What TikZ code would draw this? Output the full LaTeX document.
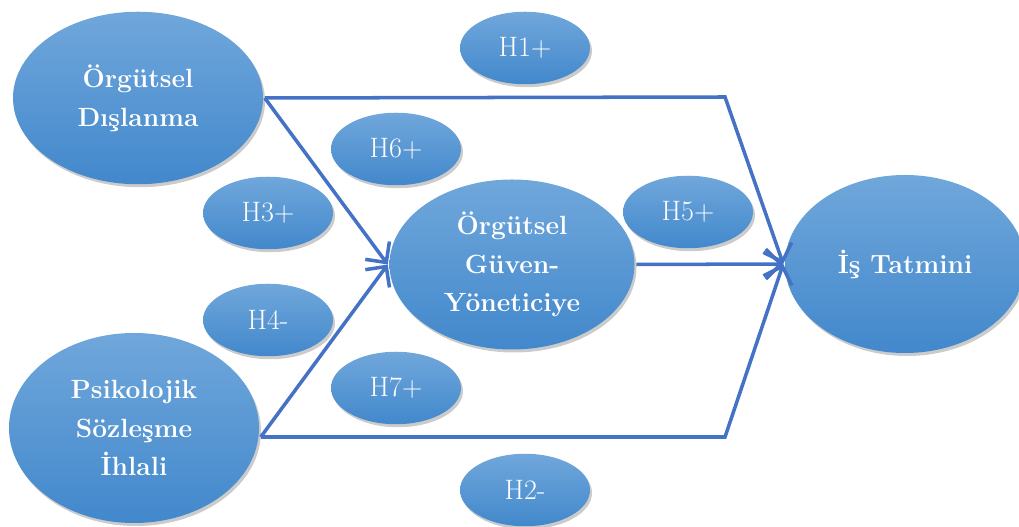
\documentclass[tikz,border=0pt]{standalone}
\usepackage{fontspec}
\usepackage{tikz}
\usetikzlibrary{arrows.meta,shapes.geometric,shadows}
\definecolor{BlobTop}{RGB}{112,167,219}
\definecolor{BlobBot}{RGB}{66,136,204}
\definecolor{LinkBlue}{RGB}{68,114,196}

\begin{document}
\begin{tikzpicture}[line width=2pt, -{Straight Barb[length=3mm,width=6mm]},
        every node/.append style={text=white, align=center},
        every ellipse node/.append style={top color=BlobTop, bottom color=BlobBot,
          drop shadow={shadow xshift=0.4mm, shadow yshift=-0.6mm, fill=black!45, opacity=0.45}}]
      \tikzstyle{construct} = [ellipse, font=\fontsize{15}{22}\selectfont\bfseries]
      \tikzstyle{hyp} = [ellipse, minimum width=2.6cm, minimum height=1.45cm, font=\fontsize{16}{18}\selectfont]
      \useasboundingbox (0,0) rectangle (20.38,10.54);
      \node (dislanma) [construct, minimum width=5cm, minimum height=3.45cm] at (2.76,8.58) {Örgütsel\\Dışlanma};
      \node (ihlal) [construct, minimum width=5cm, minimum height=3.8cm] at (2.68,1.98) {Psikolojik\\Sözleşme\\İhlali};
      \node (guven) [construct, minimum width=4.9cm, minimum height=3.4cm] at (10.24,5.25) {Örgütsel\\Güven-\\Yöneticiye};
      \node (tatmin) [construct, minimum width=4.8cm, minimum height=3.56cm] at (18.1,5.26) {İş Tatmini};
      % hypothesis labels
      \node (h1) [hyp] at (10.5,9.58) {H1+};
      \node (h6) [hyp] at (7.92,7.56) {H6+};
      \node (h3) [hyp] at (5.36,6.28) {H3+};
      \node (h5) [hyp] at (13.76,6.3) {H5+};
      \node (h4) [hyp] at (5.36,4.14) {H4-};
      \node (h7) [hyp] at (7.92,2.78) {H7+};
      \node (h2) [hyp] at (10.5,0.74) {H2-};
      \coordinate (topbend) at (14.5,8.6);
      \coordinate (botbend) at (14.5,1.8);
      \coordinate (ihlalout) at ([yshift=-0.18cm]ihlal.east);
      \begin{scope}[draw=LinkBlue]
        \draw (dislanma.east) -- (topbend) -- (tatmin.west);
        \draw (dislanma.east) -- (guven.west);
        \draw (ihlalout) -- (guven.west);
        \draw (ihlalout) -- (botbend) -- (tatmin.west);
        \draw (guven.east) -- (tatmin.west);
      \end{scope}
    \end{tikzpicture}
\end{document}
